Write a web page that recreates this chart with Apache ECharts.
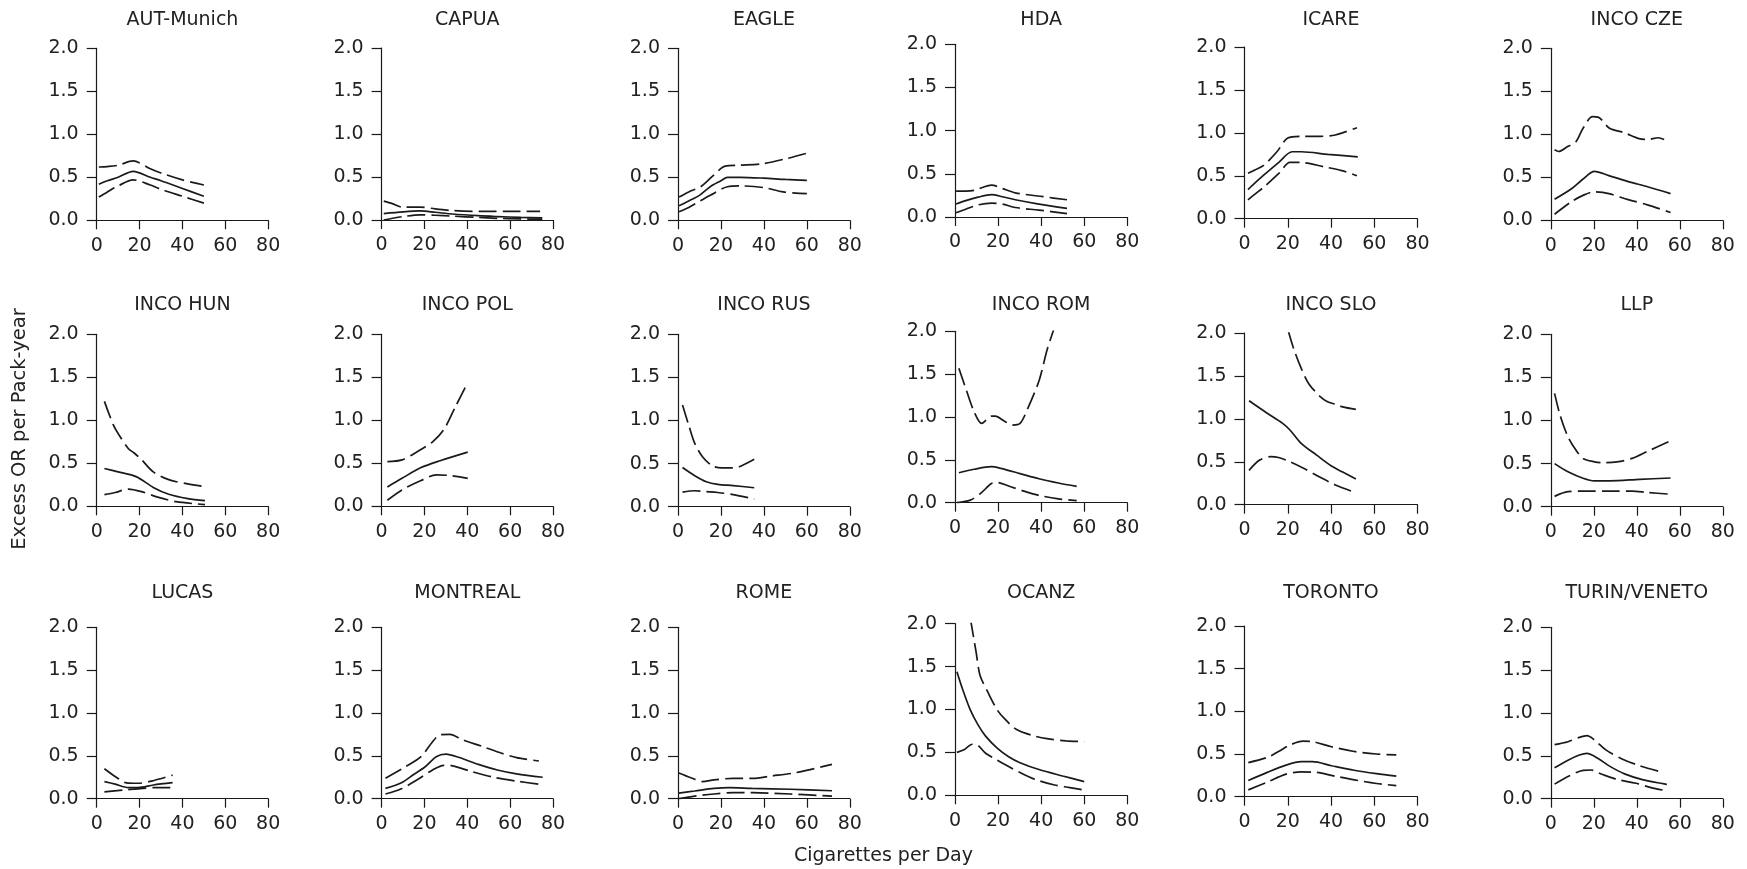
<!DOCTYPE html>
<html>
<head>
<meta charset="utf-8">
<script src="https://cdn.jsdelivr.net/npm/echarts@6/dist/echarts.min.js"></script>
<style>
  html, body { margin: 0; padding: 0; background: #fff; }
  #chart { width: 1747px; height: 869px; }
</style>
</head>
<body>
<div id="chart"></div>
<script>
// Excess OR per pack-year by cigarettes per day, per study.
// Each study: fitted estimate (solid) with lower/upper confidence bounds (dashed).
// Points are [cigarettes per day, excess OR per pack-year].

const studyNames = [
  'AUT-Munich', 'CAPUA', 'EAGLE', 'HDA', 'ICARE', 'INCO CZE',
  'INCO HUN', 'INCO POL', 'INCO RUS', 'INCO ROM', 'INCO SLO', 'LLP',
  'LUCAS', 'MONTREAL', 'ROME', 'OCANZ', 'TORONTO', 'TURIN/VENETO'
];

const xTicks = [0, 20, 40, 60, 80];
const yTicks = [0.0, 0.5, 1.0, 1.5, 2.0];

const autMunichEst = [[1,0.42],[5,0.46],[10,0.50],[17,0.57],[25,0.50],[30,0.46],[40,0.37],[50,0.28]];
const autMunichHi  = [[1,0.62],[5,0.625],[10,0.64],[17,0.69],[25,0.60],[30,0.55],[40,0.47],[50,0.41]];
const autMunichLo  = [[1,0.27],[5,0.33],[10,0.40],[17,0.47],[25,0.41],[30,0.36],[40,0.28],[50,0.20]];

const capuaEst = [[1,0.075],[10,0.095],[18,0.105],[25,0.09],[33,0.07],[45,0.05],[54,0.04],[65,0.03],[75,0.025]];
const capuaHi  = [[1,0.22],[5,0.19],[9.5,0.15],[18,0.15],[25,0.13],[33,0.11],[47,0.10],[60,0.10],[74,0.10]];
const capuaLo  = [[1,0.0],[10,0.04],[18,0.06],[25,0.055],[33,0.045],[45,0.03],[54,0.02],[65,0.012],[75,0.01]];

const eagleEst = [[0.5,0.17],[5,0.225],[10,0.29],[15,0.39],[20,0.46],[23,0.50],[29,0.50],[40,0.49],[50,0.475],[60,0.465]];
const eagleHi  = [[0.5,0.27],[5,0.33],[10.5,0.39],[16,0.51],[22,0.63],[28.5,0.64],[40,0.66],[51,0.72],[60,0.78]];
const eagleLo  = [[0.5,0.10],[5,0.15],[10,0.22],[15,0.29],[23,0.39],[29,0.40],[40,0.38],[49,0.33],[60,0.31]];

const hdaEst = [[0.5,0.15],[5,0.19],[10.7,0.23],[17,0.26],[22,0.235],[28,0.20],[39,0.15],[52,0.10]];
const hdaHi  = [[0.5,0.30],[5,0.30],[9,0.31],[17,0.37],[22,0.33],[28,0.28],[41,0.235],[52,0.20]];
const hdaLo  = [[0.5,0.05],[5,0.09],[10.7,0.14],[17,0.16],[22,0.15],[28,0.11],[39,0.08],[52,0.04]];

const icareEst = [[1.6,0.34],[5,0.42],[9,0.51],[16,0.66],[22,0.78],[26.3,0.78],[38.5,0.75],[52.4,0.72]];
const icareHi  = [[1.6,0.53],[5,0.57],[9,0.625],[15,0.78],[20,0.94],[26,0.96],[35,0.96],[42,0.975],[52,1.06]];
const icareLo  = [[1.6,0.22],[5,0.29],[9,0.37],[16,0.53],[21,0.655],[26,0.655],[36.7,0.605],[45,0.56],[52,0.50]];

const incoCzeEst = [[1.75,0.245],[9.8,0.37],[15,0.48],[20.3,0.57],[27,0.52],[36,0.45],[45,0.39],[55.7,0.31]];
const incoCzeHi  = [[1.75,0.82],[3.7,0.80],[8,0.86],[11.6,0.91],[15,1.07],[19.4,1.205],[22,1.20],[27.3,1.07],[34,1.02],[41,0.95],[45,0.94],[50,0.96],[52.7,0.94]];
const incoCzeLo  = [[1.75,0.07],[9.8,0.22],[15,0.29],[20,0.33],[27,0.31],[36,0.24],[45,0.18],[55.7,0.09]];

const incoHunEst = [[3.6,0.44],[10,0.40],[18.4,0.345],[26.4,0.22],[33.6,0.14],[42.5,0.09],[50.5,0.066]];
const incoHunHi  = [[3.6,1.22],[7.7,0.95],[10.4,0.83],[14.8,0.67],[17.5,0.62],[21,0.54],[26.4,0.40],[33.6,0.31],[42.5,0.26],[50.5,0.23]];
const incoHunLo  = [[3.6,0.135],[8.6,0.16],[14.8,0.20],[21,0.17],[28,0.11],[37,0.054],[50.5,0.02]];

const incoPolEst = [[2.7,0.225],[9.5,0.325],[18.4,0.45],[27.3,0.53],[40.2,0.63]];
const incoPolHi  = [[2.7,0.52],[9.5,0.54],[16.6,0.635],[23.8,0.75],[29,0.89],[34.5,1.16],[40.2,1.44]];
const incoPolLo  = [[2.7,0.07],[9.5,0.19],[18.4,0.30],[25.5,0.365],[31,0.36],[40.2,0.325]];

const incoRusEst = [[2.1,0.455],[7.8,0.36],[13.2,0.29],[18.5,0.26],[25.7,0.245],[35.5,0.22]];
const incoRusHi  = [[2.1,1.18],[5.2,0.93],[7.8,0.735],[11.4,0.58],[15.9,0.475],[20.3,0.45],[25.7,0.45],[29.2,0.47],[35.5,0.55]];
const incoRusLo  = [[2.1,0.17],[7.8,0.185],[13.2,0.175],[18.5,0.165],[25.7,0.14],[35.5,0.09]];

const incoRomEst = [[1.8,0.35],[8.9,0.39],[16.9,0.42],[21.3,0.40],[30.2,0.34],[39,0.28],[48,0.23],[56.5,0.19]];
const incoRomHi  = [[1.8,1.57],[5.3,1.31],[8.9,1.06],[12.4,0.925],[16.9,1.01],[18.7,1.01],[23,0.95],[26.7,0.905],[30.2,0.925],[33.8,1.10],[39.1,1.43],[42.7,1.78],[45.3,1.98],[47,2.1]];
const incoRomLo  = [[0.9,0.0],[7.1,0.03],[12.4,0.12],[16.9,0.225],[19.6,0.235],[24.9,0.195],[32,0.135],[39,0.085],[48,0.045],[56.5,0.025]];

const incoSloEst = [[2.1,1.21],[10.5,1.065],[17.5,0.95],[21,0.87],[26.2,0.715],[33.2,0.58],[40.2,0.45],[45.4,0.38],[51.5,0.30]];
const incoSloHi  = [[20.3,2.02],[22.7,1.82],[26.2,1.59],[29.7,1.41],[35,1.26],[38.4,1.20],[41.9,1.17],[45.4,1.14],[51.5,1.11]];
const incoSloLo  = [[2.1,0.40],[7,0.52],[12.2,0.56],[15.7,0.55],[21,0.50],[28,0.415],[35,0.32],[42,0.23],[51.5,0.14]];

const llpEst = [[1.75,0.50],[8,0.405],[15,0.33],[20.3,0.30],[27.3,0.30],[41.3,0.317],[55.7,0.333]];
const llpHi  = [[1.75,1.315],[4.5,1.045],[8,0.81],[11.6,0.66],[15,0.56],[20.3,0.52],[23.8,0.51],[30.8,0.52],[37.8,0.56],[44.8,0.64],[54.8,0.755]];
const llpLo  = [[1.75,0.12],[8,0.175],[15,0.18],[27.3,0.18],[37.8,0.18],[44.8,0.165],[55.7,0.145]];

const lucasEst = [[3.6,0.20],[8.6,0.17],[14.8,0.13],[19.3,0.13],[26.4,0.16],[35.4,0.187]];
const lucasHi  = [[3.6,0.35],[8.6,0.26],[13.9,0.185],[19.3,0.18],[26.4,0.21],[35.4,0.275]];
const lucasLo  = [[3.6,0.08],[12,0.10],[19.3,0.115],[28,0.13],[35.4,0.13]];

const montrealEst = [[1.8,0.12],[9.5,0.19],[14.8,0.28],[20.2,0.37],[25.5,0.49],[30,0.52],[36.3,0.48],[45.2,0.40],[54,0.335],[63,0.29],[75.2,0.25]];
const montrealHi  = [[1.8,0.24],[11.3,0.375],[18.4,0.49],[23.8,0.665],[27.3,0.745],[31.8,0.75],[38,0.685],[47,0.61],[56,0.53],[63,0.48],[73.4,0.44]];
const montrealLo  = [[1.8,0.055],[9.5,0.12],[16.6,0.22],[23.8,0.335],[29,0.39],[32.7,0.385],[41.6,0.32],[52.3,0.25],[63,0.205],[73.4,0.17]];

const romeEst = [[0.4,0.066],[7.8,0.09],[16.8,0.12],[23.9,0.13],[34.6,0.12],[52.4,0.11],[71.7,0.093]];
const romeHi  = [[0.4,0.30],[6,0.245],[11.4,0.20],[16.8,0.22],[25.7,0.237],[34.6,0.237],[43.5,0.265],[54,0.30],[71.7,0.40]];
const romeLo  = [[0.4,0.0],[7.8,0.03],[16.8,0.055],[25.7,0.07],[34.6,0.07],[52.4,0.055],[71.7,0.03]];

const ocanzEst = [[0.9,1.44],[3.6,1.23],[7.1,0.995],[10.7,0.82],[14.2,0.69],[19.6,0.55],[24.9,0.45],[30.2,0.38],[39,0.30],[50,0.225],[60,0.16]];
const ocanzHi  = [[7.2,2.05],[9.8,1.67],[11.6,1.40],[15.1,1.21],[19.6,0.995],[23.1,0.89],[28.4,0.77],[35.6,0.70],[42.7,0.66],[51.6,0.635],[60,0.625]];
const ocanzLo  = [[0.9,0.50],[4.4,0.535],[8,0.595],[10.7,0.58],[14.2,0.49],[19.6,0.41],[24.9,0.335],[30.2,0.265],[37.3,0.185],[46.2,0.12],[53.3,0.09],[60,0.06]];

const torontoEst = [[1.75,0.19],[10.5,0.285],[19.2,0.37],[26.2,0.41],[31.4,0.41],[40.2,0.363],[50.7,0.31],[61,0.27],[70.2,0.24]];
const torontoHi  = [[1.75,0.40],[10.5,0.46],[15.7,0.53],[21,0.605],[27,0.65],[31.4,0.645],[40.2,0.585],[50.7,0.53],[61,0.50],[70.2,0.49]];
const torontoLo  = [[1.75,0.08],[10.5,0.17],[19.2,0.265],[26.2,0.29],[33.2,0.285],[42,0.24],[52.4,0.19],[61,0.155],[70.2,0.13]];

const turinVenetoEst = [[1.75,0.36],[8,0.45],[13.3,0.51],[16.8,0.53],[22,0.47],[27.3,0.38],[34.3,0.29],[43,0.22],[54,0.167]];
const turinVenetoHi  = [[1.75,0.63],[8,0.665],[13.3,0.715],[16.8,0.735],[20.3,0.685],[25.6,0.57],[32.6,0.47],[41.3,0.385],[51.8,0.31]];
const turinVenetoLo  = [[1.75,0.17],[8,0.26],[15,0.33],[18.6,0.335],[23.8,0.285],[30.8,0.225],[39.6,0.18],[46.6,0.13],[53.6,0.093]];

// estimate, lower, upper per study (same order as studyNames)
const panelSeries = [
  [autMunichEst, autMunichLo, autMunichHi],
  [capuaEst, capuaLo, capuaHi],
  [eagleEst, eagleLo, eagleHi],
  [hdaEst, hdaLo, hdaHi],
  [icareEst, icareLo, icareHi],
  [incoCzeEst, incoCzeLo, incoCzeHi],
  [incoHunEst, incoHunLo, incoHunHi],
  [incoPolEst, incoPolLo, incoPolHi],
  [incoRusEst, incoRusLo, incoRusHi],
  [incoRomEst, incoRomLo, incoRomHi],
  [incoSloEst, incoSloLo, incoSloHi],
  [llpEst, llpLo, llpHi],
  [lucasEst, lucasLo, lucasHi],
  [montrealEst, montrealLo, montrealHi],
  [romeEst, romeLo, romeHi],
  [ocanzEst, ocanzLo, ocanzHi],
  [torontoEst, torontoLo, torontoHi],
  [turinVenetoEst, turinVenetoLo, turinVenetoHi]
];

// ---- layout (pixels) ----
const colLeft  = [96.7, 381.6, 678, 955, 1244.5, 1550.8];
const colWidth = [171.5, 171.4, 171.8, 172.3, 173, 172];
const rowTop = [
  [48.3, 48, 48.3, 44.3, 47, 48.3],
  [334.3, 334.3, 334.3, 331.3, 333, 334.3],
  [627.3, 627.3, 627.3, 623.7, 626, 627.3]
];
const rowBottom = [
  [220.3, 220, 220.3, 217, 218.7, 220.3],
  [506.3, 506.3, 506.7, 502.7, 504.7, 506.7],
  [798.7, 798.7, 798.7, 795.3, 796.7, 798.7]
];
const titleY = [20.5, 305.5, 593.5];

const FONT = '"DejaVu Sans", Verdana, sans-serif';
const INK = '#1a1a1a';
const TEXT = '#222';

const grids = [], xAxes = [], yAxes = [], series = [], graphics = [];

studyNames.forEach((name, i) => {
  const r = Math.floor(i / 6), c = i % 6;
  const top = rowTop[r][c], h = rowBottom[r][c] - top;
  grids.push({ left: colLeft[c], top: top, width: colWidth[c], height: h, containLabel: false });

  xAxes.push({
    type: 'value', gridIndex: i, min: xTicks[0], max: xTicks[xTicks.length - 1],
    interval: xTicks[1] - xTicks[0],
    axisLine: { show: true, onZero: false, lineStyle: { color: INK, width: 1.2 } },
    axisTick: { show: true, length: 9, lineStyle: { color: INK, width: 1.2 } },
    axisLabel: { color: TEXT, fontFamily: FONT, fontSize: 19, margin: 16 },
    splitLine: { show: false }
  });
  yAxes.push({
    type: 'value', gridIndex: i, min: yTicks[0], max: yTicks[yTicks.length - 1],
    interval: yTicks[1] - yTicks[0],
    axisLine: { show: true, onZero: false, lineStyle: { color: INK, width: 1.2 } },
    axisTick: { show: true, length: 10, lineStyle: { color: INK, width: 1.2 } },
    axisLabel: { color: TEXT, fontFamily: FONT, fontSize: 19, margin: 18,
                 formatter: v => v.toFixed(1) },
    splitLine: { show: false }
  });

  const [est, lo, hi] = panelSeries[i];
  [[est, 'solid'], [lo, [18, 6]], [hi, [18, 6]]].forEach(([d, t]) => {
    series.push({
      type: 'line', xAxisIndex: i, yAxisIndex: i, data: d,
      showSymbol: false, symbol: 'none', smooth: 0.3, clip: true, silent: true,
      lineStyle: { color: INK, width: 1.7, type: t }
    });
  });

  graphics.push({
    type: 'text', x: colLeft[c] + colWidth[c] / 2, y: titleY[r],
    style: { text: name, font: '19px ' + FONT, fill: TEXT,
             textAlign: 'center', textVerticalAlign: 'middle', align: 'center', verticalAlign: 'middle' }
  });
});

graphics.push({
  type: 'text', x: 20, y: 429, rotation: Math.PI / 2,
  style: { text: 'Excess OR per Pack-year', font: '19.5px ' + FONT, fill: TEXT,
           textAlign: 'center', textVerticalAlign: 'middle', align: 'center', verticalAlign: 'middle' }
});
graphics.push({
  type: 'text', x: 883.5, y: 856,
  style: { text: 'Cigarettes per Day', font: '19px ' + FONT, fill: TEXT,
           textAlign: 'center', textVerticalAlign: 'middle', align: 'center', verticalAlign: 'middle' }
});

const chart = echarts.init(document.getElementById('chart'), null, { renderer: 'canvas' });
chart.setOption({
  animation: false,
  backgroundColor: '#fff',
  grid: grids,
  xAxis: xAxes,
  yAxis: yAxes,
  series: series,
  graphic: graphics
});
</script>
</body>
</html>
